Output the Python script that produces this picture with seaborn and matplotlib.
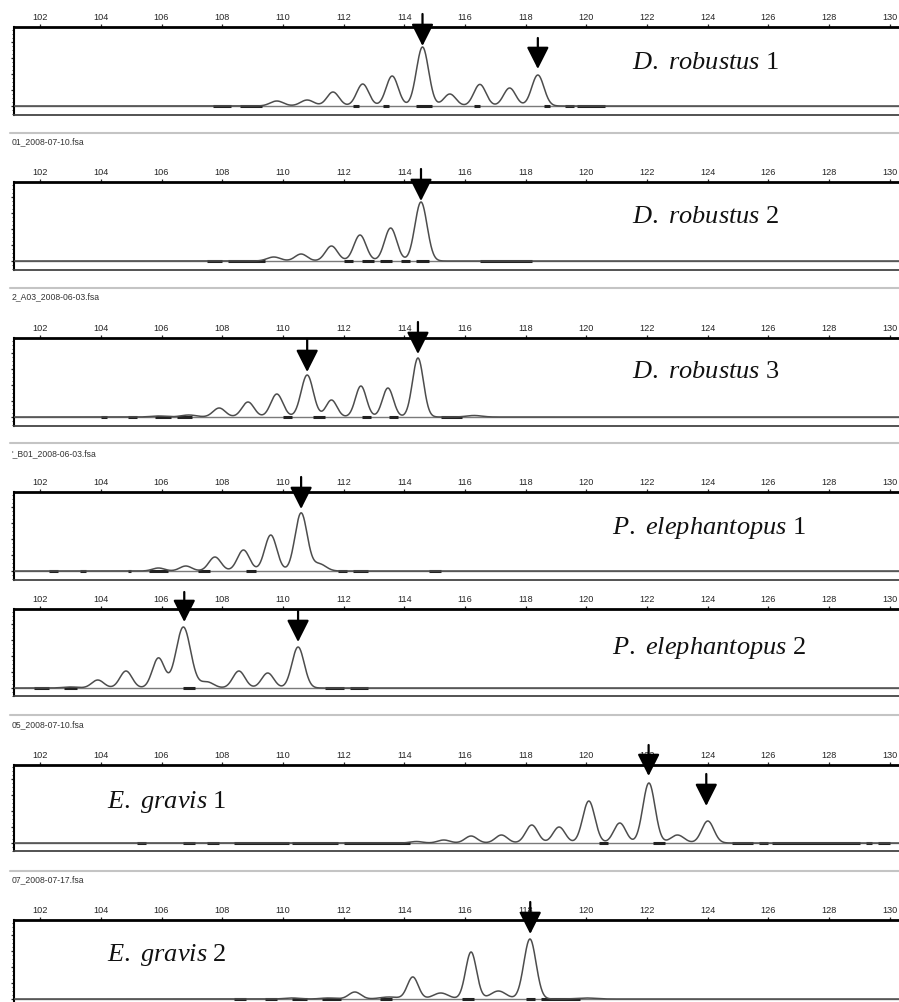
import numpy as np
import pandas as pd
import seaborn as sns
import matplotlib.pyplot as plt
from matplotlib.lines import Line2D
from matplotlib.ticker import MultipleLocator

sns.set_style("white")
plt.rcParams["font.family"] = ["Liberation Sans", "DejaVu Sans"]
plt.rcParams["mathtext.fontset"] = "custom"
plt.rcParams["mathtext.it"] = "Liberation Serif:italic"
plt.rcParams["mathtext.rm"] = "Liberation Serif"

# size axis (bp)
x_min, x_max = 101.14, 130.3
x_ticks = list(range(102, 131, 2))

# sample names and the file header shown above each panel
names = [r"$\mathit{D.}$ $\mathit{robustus}$ 1", r"$\mathit{D.}$ $\mathit{robustus}$ 2",
         r"$\mathit{D.}$ $\mathit{robustus}$ 3",
         r"$\mathit{P.}$ $\mathit{elephantopus}$ 1", r"$\mathit{P.}$ $\mathit{elephantopus}$ 2",
         r"$\mathit{E.}$ $\mathit{gravis}$ 1", r"$\mathit{E.}$ $\mathit{gravis}$ 2"]
headers = [None, "01_2008-07-10.fsa", "2_A03_2008-06-03.fsa", "'_B01_2008-06-03.fsa",
           None, "05_2008-07-10.fsa", "07_2008-07-17.fsa"]

# stutter peaks: size (bp), height, width (bp)
rob1_pos = [109.8, 110.8, 111.65, 112.63, 113.6, 114.6, 115.5, 116.49, 117.47, 118.4]
rob1_h = [5, 6, 14, 22, 30, 59, 12, 21.6, 18, 31]
rob1_w = [0.22, 0.22, 0.2, 0.2, 0.2, 0.2, 0.2, 0.2, 0.2, 0.2]

rob2_pos = [109.7, 110.6, 111.6, 112.54, 113.55, 114.55]
rob2_h = [4, 7, 15, 26, 33, 59]
rob2_w = [0.22, 0.2, 0.2, 0.2, 0.2, 0.2]

rob3_pos = [105.9, 106.9, 107.9, 108.85, 109.8, 110.8, 111.6, 112.57, 113.46, 114.45, 116.3]
rob3_h = [1, 2, 9, 15, 23, 42, 17, 31, 29, 59, 1.5]
rob3_w = [0.25, 0.25, 0.2, 0.2, 0.2, 0.2, 0.18, 0.18, 0.18, 0.18, 0.25]

ele1_pos = [105.9, 106.8, 107.76, 108.7, 109.6, 110.6, 111.2]
ele1_h = [3, 5, 14, 21, 36, 58, 7]
ele1_w = [0.2, 0.2, 0.2, 0.2, 0.2, 0.2, 0.22]

ele2_pos = [103.0, 103.9, 104.83, 105.9, 106.72, 107.5, 108.55, 109.5, 110.5]
ele2_h = [1, 8, 17, 30, 61, 6, 17, 15, 41]
ele2_w = [0.25, 0.2, 0.2, 0.2, 0.24, 0.22, 0.2, 0.2, 0.2]

gra1_pos = [114.4, 115.3, 116.2, 117.2, 118.2, 119.1, 120.08, 121.1, 122.06, 123.0, 124.0]
gra1_h = [1.5, 3, 7, 8, 18, 16, 42, 20, 60, 8, 22]
gra1_w = [0.2, 0.2, 0.2, 0.2, 0.2, 0.2, 0.2, 0.2, 0.2, 0.22, 0.2]

gra2_pos = [110.3, 111.5, 112.37, 113.5, 114.28, 115.2, 116.2, 117.1, 118.14, 120.0]
gra2_h = [1, 1, 7, 2, 22, 6, 47, 8, 60, 1]
gra2_w = [0.25, 0.25, 0.2, 0.3, 0.18, 0.25, 0.18, 0.25, 0.2, 0.3]

peaks = [(rob1_pos, rob1_h, rob1_w), (rob2_pos, rob2_h, rob2_w), (rob3_pos, rob3_h, rob3_w),
         (ele1_pos, ele1_h, ele1_w), (ele2_pos, ele2_h, ele2_w),
         (gra1_pos, gra1_h, gra1_w), (gra2_pos, gra2_h, gra2_w)]

# called alleles: size, arrow tip height, arrow tail height
alleles = [
    [(114.6, 60, 92), (118.4, 37, 68)],
    [(114.55, 60, 92)],
    [(110.8, 45, 78), (114.45, 63, 95)],
    [(110.6, 62, 94)],
    [(106.75, 66, 96), (110.5, 46, 77)],
    [(122.05, 67, 98), (123.95, 37, 69)],
    [(118.15, 65, 97)],
]

# bin marks on the baseline (start, end)
bins = [
    [(107.7, 108.3), (108.6, 109.3), (112.3, 112.5), (113.3, 113.5), (114.4, 114.9),
     (116.3, 116.5), (118.6, 118.8), (119.3, 119.6), (119.7, 120.6)],
    [(107.5, 108.0), (108.2, 109.4), (112.0, 112.3), (112.6, 113.0), (113.2, 113.6),
     (113.9, 114.2), (114.4, 114.8), (116.5, 118.2)],
    [(104.0, 104.2), (104.9, 105.2), (105.8, 106.3), (106.5, 107.0), (110.0, 110.3),
     (111.0, 111.4), (112.6, 112.9), (113.5, 113.8), (115.2, 115.9)],
    [(102.3, 102.6), (103.3, 103.5), (104.9, 105.0), (105.6, 106.2), (107.2, 107.6),
     (108.8, 109.1), (111.8, 112.1), (112.3, 112.8), (114.8, 115.2)],
    [(101.8, 102.3), (102.8, 103.2), (106.7, 107.1), (111.4, 112.0), (112.2, 112.8)],
    [(105.2, 105.5), (106.7, 107.1), (107.5, 107.9), (108.4, 110.2), (110.3, 111.8),
     (112.0, 114.2), (120.4, 120.7), (122.2, 122.6), (124.8, 125.5), (125.7, 126.0),
     (126.1, 129.0), (129.2, 129.4), (129.6, 130.0)],
    [(108.4, 108.8), (109.4, 109.8), (110.3, 110.8), (111.3, 111.9), (113.2, 113.6),
     (115.9, 116.3), (118.0, 118.3), (118.5, 119.8)],
]

# label position (size, height) for each sample name
name_xy = [(121.5, 44), (121.5, 45), (121.5, 46), (120.85, 44), (120.85, 41), (104.2, 42), (104.2, 45)]

# panel layout in pixels: top border, baseline, bottom border
layout = [(28, 107, 116), (183, 262, 271), (339, 418, 427), (493, 572, 581),
          (610, 689, 697), (766, 844, 852), (921, 1000, 1009)]
header_y = [None, 142, 297, 454, None, 725, 880]
sep_y = [134, 289, 444, 716, 872]

W, H = 899, 1003
fig = plt.figure(figsize=(W / 100, H / 100), dpi=100)

grid = np.linspace(x_min, x_max, 3000)

for i, (top, base, bot) in enumerate(layout):
    ax = fig.add_axes([14 / W, 1 - bot / H, 1 - 14 / W, (bot - top) / H])
    pos, hts, wid = peaks[i]
    signal = np.zeros_like(grid)
    for p, h, s in zip(pos, hts, wid):
        signal += h * np.exp(-0.5 * ((grid - p) / s) ** 2)
    df = pd.DataFrame({"size": grid, "rfu": signal})

    ax.axhline(0, color="#7a7a7a", lw=1.0, zorder=1)
    for a, b in bins[i]:
        ax.hlines(-0.4, a, b, color="#222222", lw=2.2, zorder=2)
    sns.lineplot(data=df, x="size", y="rfu", ax=ax, color="#4d4d4d", lw=1.1,
                 estimator=None, sort=False, zorder=3)

    for x, tip, tail in alleles[i]:
        ax.annotate("", xy=(x, tip), xytext=(x, tail),
                    arrowprops=dict(arrowstyle="-|>,head_length=13.5,head_width=6.8",
                                    mutation_scale=1, lw=1.6, color="black",
                                    shrinkA=0, shrinkB=0),
                    annotation_clip=False, zorder=5)

    nx, ny = name_xy[i]
    ax.text(nx, ny, names[i], fontsize=19, family="Liberation Serif", va="center", ha="left",
            color="#111111")

    ax.set_xlim(x_min, x_max)
    ax.set_ylim(-(bot - base), base - top)
    ax.set_xlabel("")
    ax.set_ylabel("")
    ax.xaxis.tick_top()
    ax.set_xticks(x_ticks)
    ax.set_xticklabels([str(t) for t in x_ticks])
    ax.tick_params(axis="x", direction="out", length=2.5, width=0.9, labelsize=6.6,
                   pad=1.5, top=True, bottom=False, labeltop=True, labelbottom=False)
    ax.yaxis.set_major_locator(MultipleLocator(16))
    ax.yaxis.set_minor_locator(MultipleLocator(4))
    ax.tick_params(axis="y", which="major", direction="out", length=2.2, width=0.9,
                   left=True, labelleft=False)
    ax.tick_params(axis="y", which="minor", direction="out", length=1.1, width=0.6, left=True)
    ax.spines["top"].set_linewidth(2.0)
    ax.spines["top"].set_color("black")
    ax.spines["left"].set_linewidth(1.5)
    ax.spines["left"].set_color("black")
    ax.spines["bottom"].set_linewidth(1.3)
    ax.spines["bottom"].set_color("#444444")
    ax.spines["right"].set_visible(False)
    ax.patch.set_alpha(0)

    if headers[i] is not None:
        fig.text(12 / W, 1 - header_y[i] / H, headers[i], fontsize=6.2,
                 color="#333333", va="center", ha="left")

for y in sep_y:
    fig.add_artist(Line2D([10 / W, 1], [1 - y / H, 1 - y / H], color="#c4c4c4", lw=1.5))

fig.savefig("out.png", dpi=100)
